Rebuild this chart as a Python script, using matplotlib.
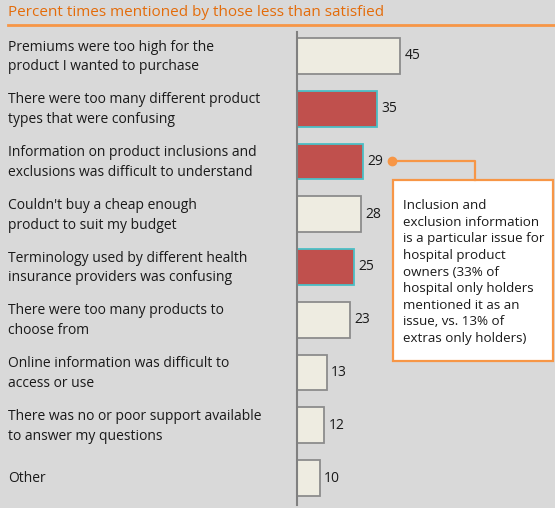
import matplotlib.pyplot as plt
from matplotlib.lines import Line2D
from matplotlib.patches import Rectangle
import numpy as np

plt.rcParams['font.family'] = ['Open Sans', 'DejaVu Sans']

# survey reasons and percentages
reasons = [
    'Premiums were too high for the\nproduct I wanted to purchase',
    'There were too many different product\ntypes that were confusing',
    'Information on product inclusions and\nexclusions was difficult to understand',
    "Couldn't buy a cheap enough\nproduct to suit my budget",
    'Terminology used by different health\ninsurance providers was confusing',
    'There were too many products to\nchoose from',
    'Online information was difficult to\naccess or use',
    'There was no or poor support available\nto answer my questions',
    'Other',
]
percent = [45, 35, 29, 28, 25, 23, 13, 12, 10]
highlight = [False, True, True, False, True, False, False, False, False]

note = ('Inclusion and\nexclusion information\nis a particular issue for\n'
        'hospital product\nowners (33% of\nhospital only holders\n'
        'mentioned it as an\nissue, vs. 13% of\nextras only holders)')

bg = '#d9d9d9'
fig = plt.figure(figsize=(5.55, 5.08), dpi=100, facecolor=bg)
W, H = 555, 508

ax = fig.add_axes([297 / W, 1 - 505 / H, (W - 297) / W, (505 - 32) / H])
ax.set_facecolor(bg)
ax.patch.set_alpha(0)

idx = np.arange(len(percent))
face = ['#c0504d' if h else '#eeece1' for h in highlight]
edge = ['#4bbfc6' if h else '#8c8c8c' for h in highlight]
ax.barh(idx, percent, height=0.68, color=face, edgecolor=edge, linewidth=1.3)

ax.set_xlim(0, (W - 297) / 2.29)
ax.set_ylim(8 + 27 / 52.75, -24 / 52.75)
for s in ['top', 'right', 'bottom']:
    ax.spines[s].set_visible(False)
ax.spines['left'].set_color('#808080')
ax.spines['left'].set_linewidth(1.5)
ax.set_xticks([])
ax.set_yticks([])

for i, v in enumerate(percent):
    ax.text(v + 1.9, i, str(v), va='center', ha='left', fontsize=10, color='#1a1a1a')

# category labels on the left
for i, r in enumerate(reasons):
    yc = 57 + i * 52.75
    fig.text(8 / W, 1 - yc / H, r, ha='left', va='center', fontsize=10,
             linespacing=1.42, color='#1a1a1a')

# title and rule
fig.text(8 / W, 1 - 12 / H, 'Percent times mentioned by those less than satisfied',
         ha='left', va='center', fontsize=11, color='#e46c0a')
fig.add_artist(Line2D([8 / W, 1], [1 - 25 / H, 1 - 25 / H], color='#f79646', lw=2,
                      transform=fig.transFigure))

# callout box with connector
orange = '#f79646'
fig.add_artist(Rectangle((393 / W, 1 - 361 / H), 160 / W, 181 / H, facecolor='white',
                         edgecolor=orange, lw=1.6, transform=fig.transFigure))
fig.add_artist(Line2D([392 / W, 475 / W, 475 / W], [1 - 161 / H, 1 - 161 / H, 1 - 180 / H],
                      color=orange, lw=1.6, transform=fig.transFigure))
fig.add_artist(Line2D([392 / W], [1 - 161 / H], marker='o', ms=6, color=orange,
                      transform=fig.transFigure))
fig.text(403 / W, 1 - 272 / H, note, ha='left', va='center', fontsize=9.6,
         linespacing=1.36, color='#1a1a1a')

fig.savefig('out.png', dpi=100, facecolor=bg)
